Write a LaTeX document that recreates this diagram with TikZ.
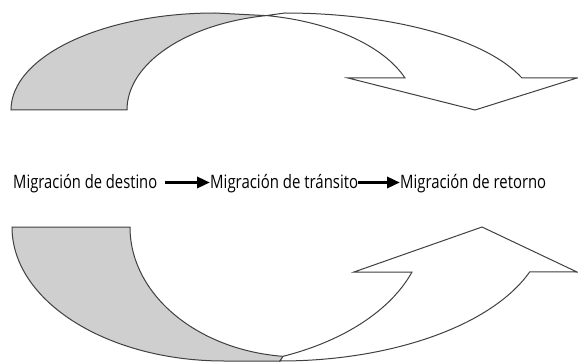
\documentclass[tikz,border=0pt]{standalone}
\usepackage{fontspec}
\setmainfont{Open Sans}
\usetikzlibrary{arrows.meta}
\tikzset{
  shapeline/.style={draw=black!75, line width=1pt, line join=miter},
  backpart/.style={shapeline, fill=black!19},
  frontpart/.style={shapeline, fill=white},
  lbl/.style={inner sep=0pt, anchor=base west, font=\fontsize{18.5pt}{20pt}\selectfont},
  bigarrow/.style={line width=3.6pt, -{Triangle[length=13pt,width=11pt]}}
}
\begin{document}
\begin{tikzpicture}[x=1pt,y=1pt]
\useasboundingbox (0,0) rectangle (578,362);
% top curved arrow
\path[backpart] (11,252) -- (127,252)
  arc[start angle=180, end angle=100.5, x radius=170, y radius=96]
  -- (215,349)
  arc[start angle=90, end angle=180, x radius=204, y radius=97] -- cycle;
\path[frontpart] (266,346.4) -- (285,349)
  arc[start angle=90, end angle=19.3, x radius=251, y radius=97]
  -- (577,284) -- (475,252) -- (348,284) -- (405,284)
  arc[start angle=19.5, end angle=79.8, x radius=181, y radius=96] -- cycle;
% bottom curved arrow
\path[backpart] (12,135) -- (130,135)
  arc[start angle=180, end angle=264.26, x radius=170, y radius=130]
  -- (280,1) -- (224,1)
  arc[start angle=270, end angle=180, x radius=212, y radius=134] -- cycle;
\path[frontpart] (283,5.6) -- (280,1)
  arc[start angle=270, end angle=340.4, x radius=265, y radius=134]
  -- (577,90) -- (482,135) -- (354,90) -- (412,90)
  arc[start angle=341.2, end angle=292.4, x radius=228, y radius=140] -- cycle;
% labels
\node[lbl] (t1) at (13,174) {\resizebox{144pt}{\height}{Migración de destino}};
\node[lbl] (t2) at (210,174) {\resizebox{148pt}{\height}{Migración de tránsito}};
\node[lbl] (t3) at (400,174) {\resizebox{146pt}{\height}{Migración de retorno}};
\draw[bigarrow] ([shift={(8pt,5.5pt)}]t1.base east) -- ([yshift=5.5pt]t2.base west);
\draw[bigarrow] ([yshift=5.5pt]t2.base east) -- ([yshift=5.5pt]t3.base west);
\end{tikzpicture}
\end{document}
